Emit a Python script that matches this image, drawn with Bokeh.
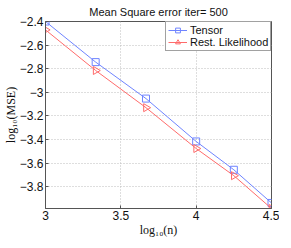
import math
from bokeh.plotting import figure
from bokeh.models import FixedTicker, Range1d, Legend
from bokeh.embed import file_html
from bokeh.resources import INLINE

# ---- data ----
log_n = [3.0, 3.333, 3.667, 4.0, 4.25, 4.5]
tensor = [-2.400, -2.744, -3.053, -3.416, -3.656, -3.937]
rest_likelihood = [-2.471, -2.815, -3.130, -3.476, -3.706, -3.984]

x_ticks = [3, 3.5, 4, 4.5]
x_tick_labels = ["3", "3.5", "4", "4.5"]
y_ticks = [-3.8, -3.6, -3.4, -3.2, -3.0, -2.8, -2.6, -2.4]
y_tick_labels = ["\u22123.8", "\u22123.6", "\u22123.4", "\u22123.2", "\u22123", "\u22122.8", "\u22122.6", "\u22122.4"]

title_text = "Mean Square error iter= 500"
x_label_text = "log\u2081\u2080(n)"
y_label_text = "log\u2081\u2080(MSE)"
series_names = ["Tensor", "Rest. Likelihood"]

FW, FH = 226, 187

p = figure(frame_width=FW, frame_height=FH, output_backend="svg", toolbar_location=None,
           x_range=Range1d(3.0, 4.5), y_range=Range1d(-3.984, -2.4),
           min_border_left=0, min_border_right=8, min_border_top=0, min_border_bottom=0,
           background_fill_color="white", border_fill_color="white",
           title=title_text)
p.title.text_font = "Liberation Sans"
p.title.text_font_size = "11px"
p.title.text_font_style = "normal"
p.title.align = "center"
p.title.standoff = 7
p.title.text_color = "#111111"
p.outline_line_color = "#555555"
p.outline_line_width = 1

for ax, ticks, labels in ((p.xaxis[0], x_ticks, x_tick_labels), (p.yaxis[0], y_ticks, y_tick_labels)):
    ax.ticker = FixedTicker(ticks=ticks)
    ax.major_label_overrides = {t: l for t, l in zip(ticks, labels)}
    ax.major_tick_in = 3
    ax.major_tick_out = 0
    ax.minor_tick_line_color = None
    ax.axis_line_color = "#555555"
    ax.major_tick_line_color = "#555555"
    ax.major_label_text_font = "Liberation Sans"
    ax.major_label_text_font_size = "12px"
    ax.major_label_text_color = "#111111"
    ax.major_label_standoff = 2
    ax.axis_label_text_font = "Liberation Serif"
    ax.axis_label_text_font_size = "12px"
    ax.axis_label_text_font_style = "normal"
    ax.axis_label_text_color = "#111111"
    ax.axis_label_standoff = 0

p.xaxis[0].axis_label = x_label_text
p.yaxis[0].axis_label = y_label_text
p.yaxis[0].axis_label_standoff = -1

p.xgrid.ticker = FixedTicker(ticks=x_ticks)
p.ygrid.ticker = FixedTicker(ticks=y_ticks)
for g in (p.xgrid, p.ygrid):
    g.grid_line_color = "#bdbdbd"
    g.grid_line_dash = "1 2"
    g.grid_line_width = 1

blue = "#6f84ff"
red = "#ff6b6b"
l1 = p.line(log_n, tensor, line_color=blue, line_width=1)
m1 = p.scatter(log_n, tensor, marker="square", size=7, line_color=blue, fill_color=None, line_width=1)
l2 = p.line(log_n, rest_likelihood, line_color=red, line_width=1)
m2 = p.scatter(log_n, rest_likelihood, marker="triangle", angle=-math.pi / 2, size=8,
               line_color=red, fill_color=None, line_width=1)

PAD, GW, GH, STAND = 2, 19, 12, 3
LW_EST = 2 * PAD + GW + STAND + 78
LH = 2 * PAD + 2 * GH
lx, ly = FW - 2 - LW_EST, FH - 2 - LH
legend = Legend(items=[(series_names[0], [l1, m1]), (series_names[1], [l2, m2])],
                location=(lx, ly), padding=PAD, spacing=0, margin=0,
                glyph_width=GW, glyph_height=GH, label_height=GH, label_standoff=STAND,
                label_text_font="Liberation Sans", label_text_font_size="11px",
                label_text_color="#111111",
                border_line_color="#444444", border_line_width=1,
                background_fill_color="white", background_fill_alpha=1)
p.add_layout(legend, "center")

open("out.html", "w").write(file_html(p, INLINE))
